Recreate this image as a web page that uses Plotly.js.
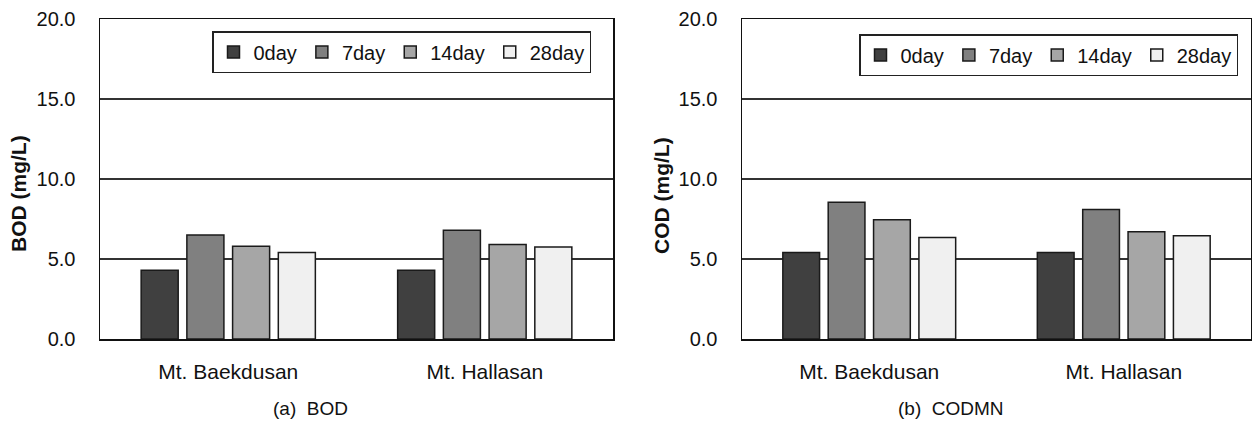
<!DOCTYPE html>
<html>
<head>
<meta charset="utf-8">
<script src="https://cdn.plot.ly/plotly-3.0.1.min.js"></script>
<style>html,body{margin:0;padding:0;background:#fff;}#chart{width:1252px;height:424px;}</style>
</head>
<body>
<div id="chart"></div>
<script>
// ---- data ----
const categories = ['Mt. Baekdusan', 'Mt. Hallasan'];
const seriesNames = ['0day', '7day', '14day', '28day'];
const bod0 = [4.3, 4.3];
const bod7 = [6.5, 6.8];
const bod14 = [5.8, 5.9];
const bod28 = [5.4, 5.75];
const cod0 = [5.4, 5.4];
const cod7 = [8.55, 8.1];
const cod14 = [7.45, 6.7];
const cod28 = [6.35, 6.45];
const yTicks = [0, 5, 10, 15, 20];
const yTickText = ['0.0', '5.0', '10.0', '15.0', '20.0'];

// ---- style ----
const W = 1252, H = 424;
const colors = ['#404040', '#808080', '#a6a6a6', '#f0f0f0'];
const FONT = 'Liberation Sans, Arial, sans-serif';
const px = v => v / W;
const py = v => (H - v) / H;

const bodSets = [bod0, bod7, bod14, bod28];
const codSets = [cod0, cod7, cod14, cod28];
const traces = [];
bodSets.forEach((vals, i) => traces.push({
  type: 'bar', x: categories, y: vals, name: seriesNames[i],
  xaxis: 'x', yaxis: 'y', legend: 'legend',
  marker: {color: colors[i], line: {color: '#1a1a1a', width: 1.5}}
}));
codSets.forEach((vals, i) => traces.push({
  type: 'bar', x: categories, y: vals, name: seriesNames[i],
  xaxis: 'x2', yaxis: 'y2', legend: 'legend2',
  marker: {color: colors[i], line: {color: '#1a1a1a', width: 1.5}}
}));

const yDomain = [py(339), py(19)];
function yAxis(anchor) {
  return {
    domain: yDomain, anchor: anchor, range: [0, 20], tickvals: yTicks, ticktext: yTickText,
    showgrid: true, gridcolor: '#333', gridwidth: 1.5, zeroline: false,
    showline: true, linecolor: '#111', linewidth: 1.5, mirror: true,
    ticks: '', ticklabelstandoff: 19, tickfont: {family: FONT, size: 20, color: '#111'},
    fixedrange: true
  };
}
function xAxis(domain, anchor) {
  return {
    domain: domain, anchor: anchor, type: 'category',
    showline: true, linecolor: '#111', linewidth: 1.5, mirror: true,
    ticks: '', ticklabelstandoff: 13, tickfont: {family: FONT, size: 21, color: '#111'},
    showgrid: false, fixedrange: true
  };
}
function legendAt(xr, yt) {
  return {
    orientation: 'h', x: px(xr), xanchor: 'right', y: py(yt), yanchor: 'top',
    bgcolor: '#fff', bordercolor: '#222', borderwidth: 1.5,
    font: {family: FONT, size: 20, color: '#111'}, itemclick: false, itemdoubleclick: false,
    traceorder: 'normal'
  };
}
function ann(text, x, y, size, angle) {
  return {text: text, xref: 'paper', yref: 'paper', x: px(x), y: py(y),
    xanchor: 'center', yanchor: 'middle', textangle: angle || 0, showarrow: false,
    font: {family: FONT, size: size, color: '#111'}};
}

const layout = {
  width: W, height: H, margin: {l: 0, r: 0, t: 0, b: 0},
  paper_bgcolor: '#fff', plot_bgcolor: '#fff',
  barmode: 'group', bargap: 0.287, bargroupgap: 0.19,
  xaxis: xAxis([px(100), px(613)], 'y'),
  yaxis: yAxis('x'),
  xaxis2: xAxis([px(742), px(1251)], 'y2'),
  yaxis2: yAxis('x2'),
  showlegend: true,
  legend: legendAt(591, 31),
  legend2: legendAt(1238, 34),
  annotations: [
    ann('<b>BOD (mg/L)</b>', 19, 194, 21, -90),
    ann('<b>COD (mg/L)</b>', 661, 195, 21, -90),
    ann('(a)\u00a0\u00a0BOD', 310, 408, 19),
    ann('(b)\u00a0\u00a0CODMN', 951, 408, 19)
  ]
};

Plotly.newPlot('chart', traces, layout, {staticPlot: true, displayModeBar: false});
</script>
</body>
</html>
